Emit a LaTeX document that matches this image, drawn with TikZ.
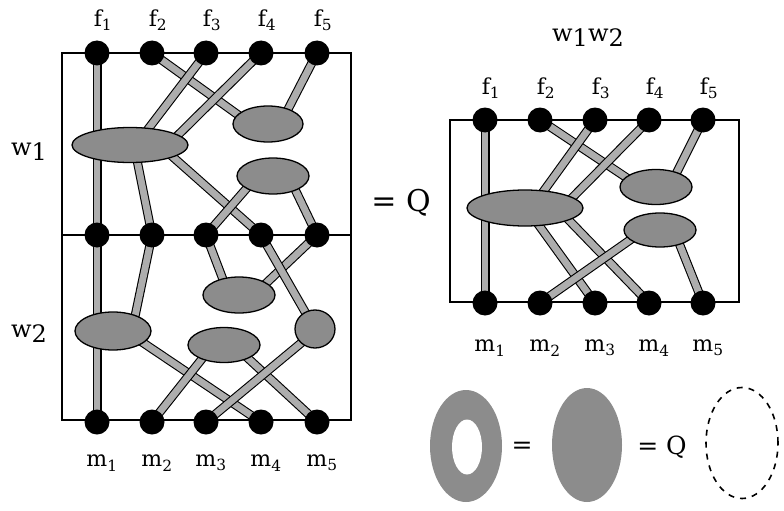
\documentclass[tikz,border=0pt]{standalone}
\usepackage{fontspec}
\setmainfont{DejaVu Serif}
\usetikzlibrary{shapes.geometric,calc,backgrounds}
\begin{document}
\begin{tikzpicture}[x=1pt,y=-1pt,
  dot/.style={circle,fill=black,minimum size=25pt,inner sep=0pt},
  blob/.style={ellipse,draw=black,line width=1.3pt,fill=black!45,inner sep=0pt},
  bar/.style={draw=black,line width=1.1pt,double=black!32,double distance=6.8pt},
  lbl/.style={font=\fontsize{22}{26}\selectfont,inner sep=0pt},
  wl/.style={font=\fontsize{24}{28}\selectfont,inner sep=0pt},
  frame/.style={draw=black,line width=1.2pt}]
\useasboundingbox (0,0) rectangle (784,511);

% ---------- left diagram ----------
\foreach \i/\x in {1/97,2/152,3/206,4/261,5/317}{
  \node[dot] (lf\i) at (\x,53) {};
  \node[dot] (lc\i) at (\x,235) {};
  \node[dot] (lm\i) at (\x,422) {};
  \node[lbl] (lfl\i) at (\x+6,20) {f\textsubscript{\i}};
  \node[lbl] (lml\i) at (\x+5,463) {m\textsubscript{\i}};
}
\node[blob,minimum width=116pt,minimum height=35pt] (e1) at (130,145) {};
\node[blob,minimum width=70pt,minimum height=36pt] (e2) at (268,124) {};
\node[blob,minimum width=72pt,minimum height=36pt] (e3) at (273,176) {};
\node[blob,minimum width=72pt,minimum height=36pt] (e4) at (239,295) {};
\node[blob,minimum width=76pt,minimum height=38pt] (e5) at (113,331) {};
\node[blob,minimum width=72pt,minimum height=35pt] (e6) at (224,345) {};
\node[blob,minimum width=40pt,minimum height=38pt] (e7) at (315,329) {};

\node[wl] (w1) at (29,152) {w\raisebox{-5pt}{1}};
\node[wl] (w2) at (29,334) {w\raisebox{-5pt}{2}};

% ---------- right diagram ----------
\foreach \i/\x in {1/485,2/540,3/595,4/649,5/703}{
  \node[dot] (rf\i) at (\x,120) {};
  \node[dot] (rm\i) at (\x,303) {};
  \node[lbl] (rfl\i) at (\x+6,88) {f\textsubscript{\i}};
  \node[lbl] (rml\i) at (\x+5,348) {m\textsubscript{\i}};
}
\node[blob,minimum width=116pt,minimum height=36pt] (re1) at (525,208) {};
\node[blob,minimum width=72pt,minimum height=35pt] (re2) at (656,187) {};
\node[blob,minimum width=72pt,minimum height=34pt] (re3) at (660,230) {};

\node[wl] (w12) at (588,38) {w\raisebox{-5pt}{1}w\raisebox{-5pt}{2}};
\node[font=\fontsize{30}{34}\selectfont,inner sep=0pt] (eqQ) at (401,203) {= Q};

% ---------- bottom right identity ----------
\node[ellipse,fill=black!45,minimum width=72pt,minimum height=112pt,inner sep=0pt] (ring) at (466,446) {};
\node[ellipse,fill=white,minimum width=30pt,minimum height=55pt,inner sep=0pt] (hole) at (467,447) {};
\node[font=\fontsize{25}{30}\selectfont,inner sep=0pt] (eqa) at (522,448) {=};
\node[ellipse,fill=black!45,minimum width=70pt,minimum height=114pt,inner sep=0pt] (solid) at (587,445) {};
\node[font=\fontsize{25}{30}\selectfont,inner sep=0pt] (eqb) at (662,447) {= Q};
\node[ellipse,draw=black,line width=1.6pt,dash pattern=on 6pt off 6pt,minimum width=72pt,minimum height=111pt,inner sep=0pt] (dash) at (742,443) {};

% ---------- frames and bars behind ----------
\begin{scope}[on background layer]
  \draw[frame] (62,53) rectangle (351,420);
  \draw[frame] (62,235) -- (351,235);
  \draw[frame] (450,120) rectangle (739,302);
  % left, upper half
  \draw[bar] (lf1.center) -- (lf1 |- e1.center);
  \draw[bar] (lf2.center) -- ($(e2)+(-20,-2)$);
  \draw[bar] (lf3.center) -- ($(e1)+(12,-8)$);
  \draw[bar] (lf4.center) -- ($(e1)+(40,-2)$);
  \draw[bar] (lf5.center) -- ($(e2)+(15,-5)$);
  \draw[bar] (lc1 |- e1.center) -- (lc1.center);
  \draw[bar] ($(e1)+(5,5)$) -- (lc2.center);
  \draw[bar] ($(e1)+(35,5)$) -- (lc4.center);
  \draw[bar] ($(e3)+(-20,5)$) -- (lc3.center);
  \draw[bar] ($(e3)+(18,5)$) -- (lc5.center);
  % left, lower half
  \draw[bar] (lc3.center) -- ($(e4)+(-12,-5)$);
  \draw[bar] (lc5.center) -- ($(e4)+(20,-5)$);
  \draw[bar] (lc4.center) -- ($(e7)+(-3,-5)$);
  \draw[bar] (lc1.center) -- (lc1 |- e5.center);
  \draw[bar] (lc2.center) -- ($(e5)+(20,-5)$);
  \draw[bar] (lm1 |- e5.center) -- (lm1.center);
  \draw[bar] ($(e5)+(20,5)$) -- (lm4.center);
  \draw[bar] ($(e6)+(-15,5)$) -- (lm2.center);
  \draw[bar] ($(e6)+(15,5)$) -- (lm5.center);
  \draw[bar] ($(e7)+(-3,5)$) -- (lm3.center);
  % right
  \draw[bar] (rf1.center) -- (rf1 |- re1.center);
  \draw[bar] (rf2.center) -- ($(re2)+(-20,-3)$);
  \draw[bar] (rf3.center) -- ($(re1)+(10,-5)$);
  \draw[bar] (rf4.center) -- ($(re1)+(40,-3)$);
  \draw[bar] (rf5.center) -- ($(re2)+(15,-3)$);
  \draw[bar] (rm1 |- re1.center) -- (rm1.center);
  \draw[bar] ($(re1)+(5,5)$) -- (rm3.center);
  \draw[bar] ($(re1)+(35,3)$) -- (rm4.center);
  \draw[bar] ($(re3)+(-20,3)$) -- (rm2.center);
  \draw[bar] ($(re3)+(15,3)$) -- (rm5.center);
\end{scope}
\end{tikzpicture}
\end{document}
